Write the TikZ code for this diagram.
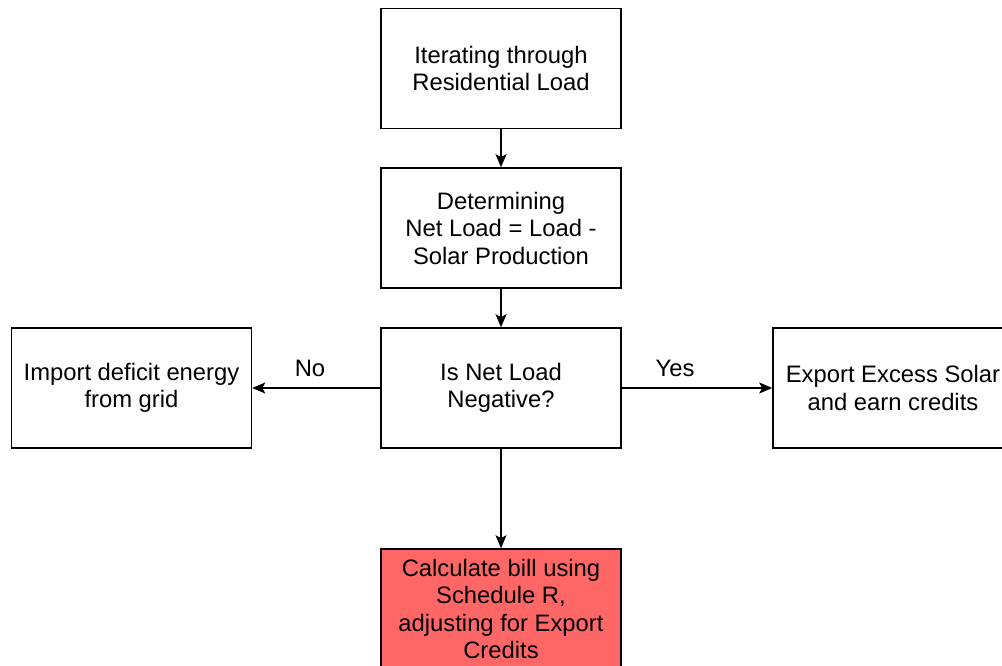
\documentclass[tikz,border=0pt]{standalone}
\usepackage{fontspec}
\setmainfont{Liberation Sans}
\usetikzlibrary{arrows.meta}
\definecolor{billred}{HTML}{FF6666}
\tikzset{
  stepbox/.style={draw=black, line width=1.6pt, minimum width=240pt, minimum height=120pt,
    inner sep=0pt, align=center, font=\fontsize{23.8pt}{27.5pt}\selectfont},
  flow/.style={draw=black, line width=1.6pt,
    -{Stealth[length=13pt,width=11pt,inset=3pt]}},
  lbl/.style={font=\fontsize{23.8pt}{27.5pt}\selectfont, inner sep=0pt}
}
\begin{document}
\begin{tikzpicture}[x=1pt,y=-1pt]
  \useasboundingbox (0,0) rectangle (1002,666);
  % process steps
  \node[stepbox] (iter) at (501,68.5) {Iterating through\\Residential Load};
  \node[stepbox] (net) at (501,228) {Determining\\Net Load = Load -\\Solar Production};
  \node[stepbox] (neg) at (501,388) {Is Net Load\\Negative?};
  \node[stepbox] (imp) at (131.5,388) {Import deficit energy\\from grid};
  \node[stepbox] (exp) at (893,388) {Export Excess Solar\\and earn credits};
  \node[stepbox, fill=billred] (bill) at (501,609) {Calculate bill using\\Schedule R,\\adjusting for Export\\Credits};
  % connectors
  \draw[flow] (iter) -- (net);
  \draw[flow] (net) -- (neg);
  \draw[flow] (neg) -- (imp);
  \draw[flow] (neg) -- (exp);
  \draw[flow] (neg) -- (bill);
  % decision labels
  \node[lbl] (no) at (310,368) {No};
  \node[lbl] (yes) at (675,368) {Yes};
\end{tikzpicture}
\end{document}
